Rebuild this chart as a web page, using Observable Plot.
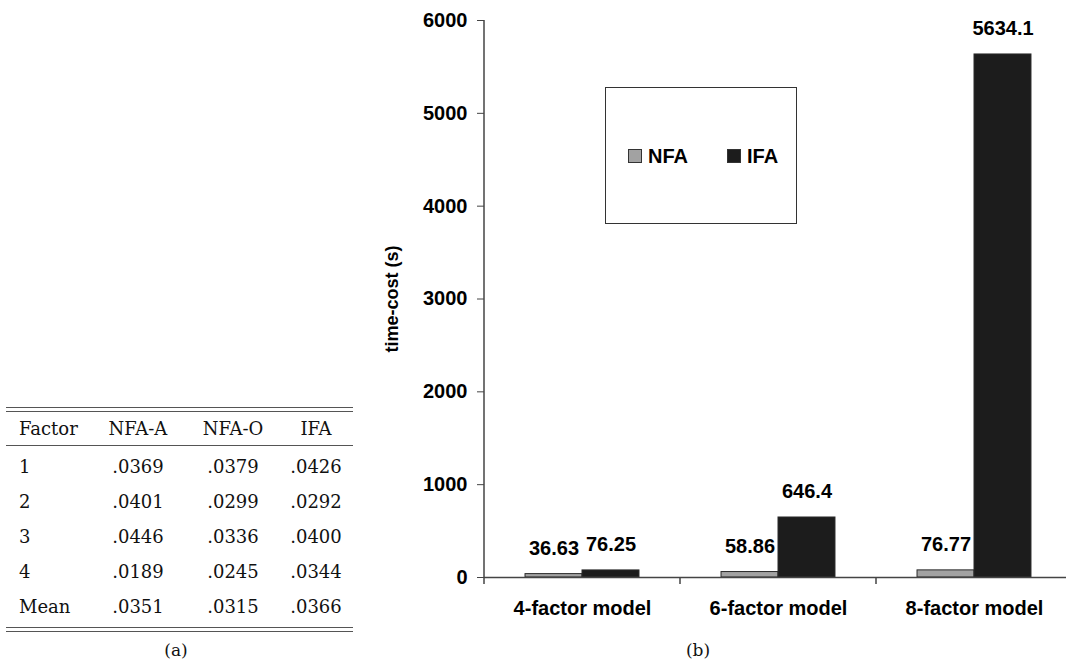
<!DOCTYPE html>
<html>
<head>
<meta charset="utf-8">
<script src="https://cdn.jsdelivr.net/npm/d3@7"></script>
<script src="https://cdn.jsdelivr.net/npm/@observablehq/plot@0.6"></script>
<style>
  html, body { margin: 0; padding: 0; background: #fff; }
  #page { position: relative; width: 1066px; height: 662px; overflow: hidden; background: #fff; }
  #chart { position: absolute; left: 0; top: 0; }
  .rule { position: absolute; height: 1px; background: #555; }
  .cell { position: absolute; font-family: "DejaVu Serif", "Liberation Serif", serif; font-size: 18px; line-height: 20px; color: #111; white-space: nowrap; }
  .caption { position: absolute; font-family: "DejaVu Serif", "Liberation Serif", serif; font-size: 17px; line-height: 20px; color: #111; transform: translateX(-50%); }
  #legend { position: absolute; left: 605px; top: 87px; width: 190px; height: 135px; border: 1.5px solid #333; background: #fff; }
  .lg-item { position: absolute; top: 56px; display: flex; align-items: center; font-family: "Liberation Sans", Arial, sans-serif; font-weight: bold; font-size: 20px; line-height: 24px; color: #000; }
  .lg-swatch { width: 12px; height: 12px; border: 1px solid #333; margin-right: 6px; }
</style>
</head>
<body>
<div id="page">
  <div id="chart"></div>
</div>
<script>
// ---- Chart (b) data ----
const categories = ["4-factor model", "6-factor model", "8-factor model"];
const seriesNames = ["NFA", "IFA"];
const nfaValues = [36.63, 58.86, 76.77];
const ifaValues = [76.25, 646.4, 5634.1];
const yTicks = [0, 1000, 2000, 3000, 4000, 5000, 6000];
const seriesColors = ["#a2a2a2", "#1c1c1c"];
const yLabel = "time-cost (s)";

// ---- Table (a) data ----
const tableHeader = ["Factor", "NFA-A", "NFA-O", "IFA"];
const tableFactors = ["1", "2", "3", "4", "Mean"];
const colNfaA = [".0369", ".0401", ".0446", ".0189", ".0351"];
const colNfaO = [".0379", ".0299", ".0336", ".0245", ".0315"];
const colIfa  = [".0426", ".0292", ".0400", ".0344", ".0366"];

const data = [];
categories.forEach((c, i) => {
  data.push({category: c, series: "NFA", value: nfaValues[i]});
  data.push({category: c, series: "IFA", value: ifaValues[i]});
});

const font = "'Liberation Sans', Arial, sans-serif";

const plot = Plot.plot({
  width: 1066,
  height: 630,
  marginLeft: 484,
  marginRight: 0,
  marginTop: 20,
  marginBottom: 53,
  style: {fontFamily: font, fontSize: "20px", fontWeight: "bold", color: "#000", background: "transparent"},
  fx: {domain: categories, range: [484, 1072], paddingInner: 0, paddingOuter: 0, round: false},
  x: {domain: seriesNames, paddingInner: 0, paddingOuter: 0.72, round: false, axis: null},
  y: {domain: [0, 6000]},
  color: {domain: seriesNames, range: seriesColors},
  marks: [
    Plot.barY(data, {fx: "category", x: "series", y: "value", fill: "series", stroke: "#2a2a2a", strokeWidth: 1}),
    Plot.ruleY([0], {stroke: "#444", strokeWidth: 1.5}),
    Plot.text(data, {fx: "category", x: "series", y: "value", text: d => String(d.value),
      lineAnchor: "bottom", dy: -19, fontSize: 20, fontWeight: "bold", fill: "#000"}),
    Plot.axisY({ticks: yTicks, tickSize: 7, tickPadding: 10, tickFormat: d => String(d), label: null,
      fontSize: 20, fontWeight: "bold", stroke: "#444"}),
    Plot.axisY({ticks: [], label: yLabel, labelArrow: "none", labelAnchor: "center", labelOffset: 99, fontSize: 18, fontWeight: "bold"}),
    Plot.axisFx({anchor: "bottom", tickSize: 0, tickPadding: 23, label: null, fontSize: 20, fontWeight: "bold"})
  ]
});
document.getElementById("chart").append(plot);

// strip any arrow the library may add to the axis label
d3.select(plot).selectAll("text").each(function () {
  const t = this.textContent;
  if (t.includes(yLabel) && t !== yLabel) this.textContent = yLabel;
});

// y-axis line and category boundary ticks, placed with the plot's own scales
const fxS = plot.scale("fx");
const yS = plot.scale("y");
const svg = d3.select(plot);
const g = svg.append("g").attr("stroke", "#444").attr("stroke-width", 1.5);
const y0 = yS.apply(0), yTop = yS.apply(yTicks[yTicks.length - 1]);
g.append("line").attr("x1", fxS.range[0]).attr("x2", fxS.range[0]).attr("y1", yTop).attr("y2", y0);
const bounds = categories.map(c => fxS.apply(c)).concat([fxS.apply(categories[categories.length - 1]) + fxS.bandwidth]);
bounds.forEach(x => g.append("line").attr("x1", x).attr("x2", x).attr("y1", y0).attr("y2", y0 + 7));

// ---- Legend (inside chart) ----
const page = document.getElementById("page");
const legend = document.createElement("div");
legend.id = "legend";
const legendLefts = [22, 121];
seriesNames.forEach((s, i) => {
  const item = document.createElement("div");
  item.className = "lg-item";
  item.style.left = legendLefts[i] + "px";
  const sw = document.createElement("div");
  sw.className = "lg-swatch";
  sw.style.background = seriesColors[i];
  item.append(sw, document.createTextNode(s));
  legend.append(item);
});
page.append(legend);

// ---- Table (a) ----
function addRule(y) {
  const r = document.createElement("div");
  r.className = "rule";
  r.style.left = "6px"; r.style.width = "347px"; r.style.top = y + "px";
  page.append(r);
}
[407, 411, 445, 627, 631].forEach(addRule);
const colCenters = [null, 138, 233, 316];
function addCell(text, col, cy) {
  const d = document.createElement("div");
  d.className = "cell";
  d.textContent = text;
  d.style.top = (cy - 10) + "px";
  if (col === 0) { d.style.left = "19px"; }
  else { d.style.left = colCenters[col] + "px"; d.style.transform = "translateX(-50%)"; }
  page.append(d);
}
tableHeader.forEach((h, j) => addCell(h, j, 429));
tableFactors.forEach((f, i) => {
  const cy = 467 + i * 35;
  addCell(f, 0, cy);
  addCell(colNfaA[i], 1, cy);
  addCell(colNfaO[i], 2, cy);
  addCell(colIfa[i], 3, cy);
});

// ---- Captions ----
[["(a)", 176], ["(b)", 698]].forEach(([t, x]) => {
  const c = document.createElement("div");
  c.className = "caption";
  c.textContent = t;
  c.style.left = x + "px";
  c.style.top = "640px";
  page.append(c);
});
</script>
</body>
</html>
